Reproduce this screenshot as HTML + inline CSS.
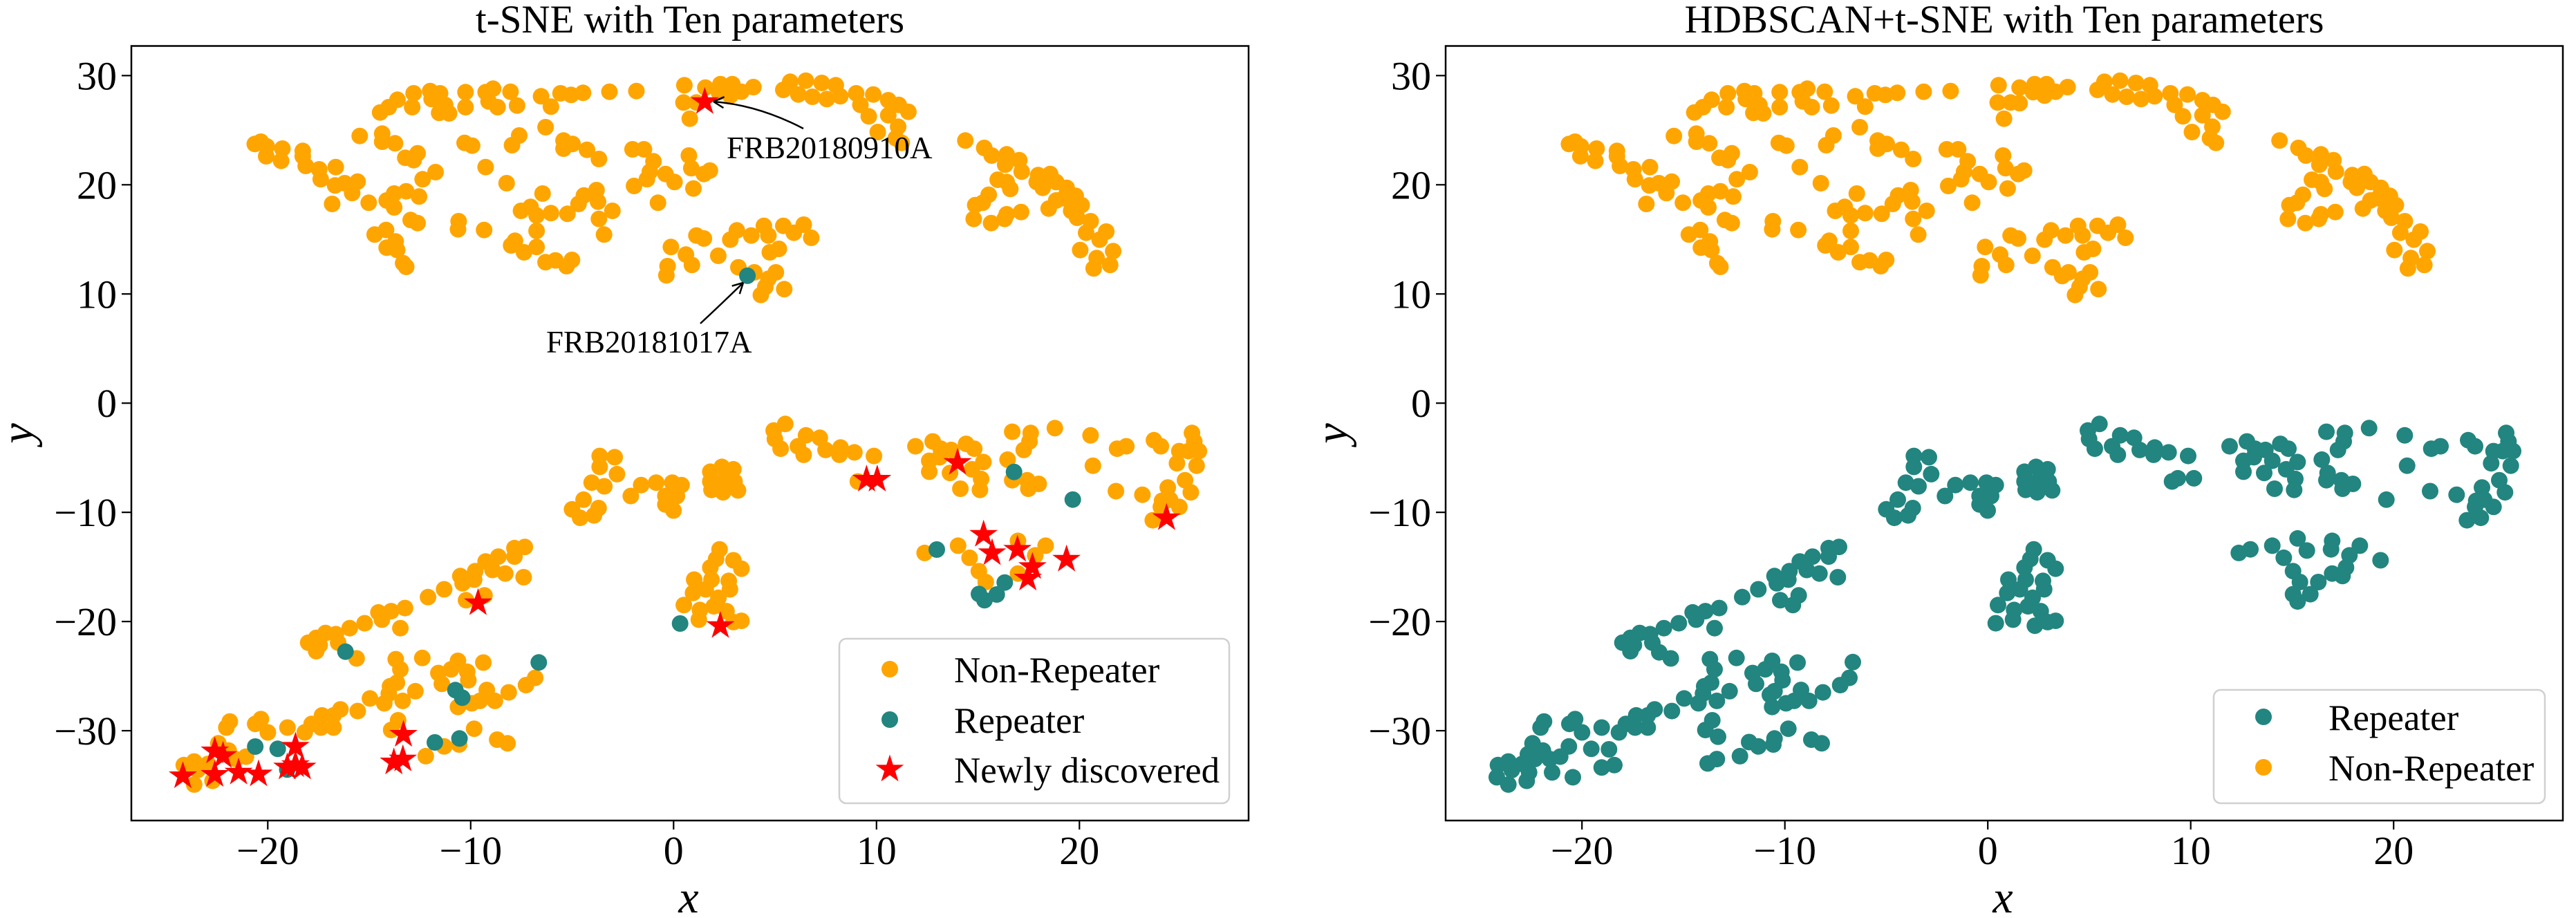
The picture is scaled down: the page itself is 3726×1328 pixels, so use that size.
<!DOCTYPE html>
<html><head><meta charset="utf-8">
<style>
html,body{margin:0;padding:0;background:#fff;}
svg{display:block;}
text{font-family:"Liberation Serif","DejaVu Serif",serif;fill:#000;}
</style></head>
<body>
<svg id="s" xmlns="http://www.w3.org/2000/svg" width="3726" height="1328" viewBox="0 0 3726 1328">
<rect x="0" y="0" width="3726" height="1328" fill="#fff"/>
<g id="pl"></g>
<g id="pr"></g>
<g id="ann" fill="none" stroke="#000" stroke-width="2.5"></g>

<!-- Left axes -->
<rect x="190" y="66.5" width="1616" height="1120.5" fill="none" stroke="#000" stroke-width="2.5"/>
<g stroke="#000" stroke-width="2.2">
<line x1="176" y1="109.35" x2="190" y2="109.35"/><line x1="176" y1="267.3" x2="190" y2="267.3"/>
<line x1="176" y1="425.25" x2="190" y2="425.25"/><line x1="176" y1="583.2" x2="190" y2="583.2"/>
<line x1="176" y1="741.15" x2="190" y2="741.15"/><line x1="176" y1="899.1" x2="190" y2="899.1"/>
<line x1="176" y1="1057.05" x2="190" y2="1057.05"/>
<line x1="387.3" y1="1187" x2="387.3" y2="1200"/><line x1="680.8" y1="1187" x2="680.8" y2="1200"/>
<line x1="974.3" y1="1187" x2="974.3" y2="1200"/><line x1="1267.8" y1="1187" x2="1267.8" y2="1200"/>
<line x1="1561.3" y1="1187" x2="1561.3" y2="1200"/>
</g>
<g font-size="58" text-anchor="end">
<text x="169" y="129.4">30</text><text x="169" y="287.3">20</text><text x="169" y="445.3">10</text>
<text x="169" y="603.2">0</text><text x="169" y="761.2">−10</text><text x="169" y="919.1">−20</text>
<text x="169" y="1077.1">−30</text>
</g>
<g font-size="58" text-anchor="middle">
<text x="387.3" y="1250">−20</text><text x="680.8" y="1250">−10</text><text x="974.3" y="1250">0</text>
<text x="1267.8" y="1250">10</text><text x="1561.3" y="1250">20</text>
</g>
<text x="998" y="47" font-size="57" text-anchor="middle">t-SNE with Ten parameters</text>
<text x="996" y="1320" font-size="66" font-style="italic" text-anchor="middle">x</text>
<text transform="translate(47,627) rotate(-90)" font-size="66" font-style="italic" text-anchor="middle">y</text>
<text x="1051" y="229" font-size="45">FRB20180910A</text>
<text x="790" y="510" font-size="45">FRB20181017A</text>

<!-- Left legend -->
<rect x="1214" y="924" width="564" height="238" rx="10" ry="10" fill="#fff" fill-opacity="0.8" stroke="#d0d0d0" stroke-width="2.5"/>
<circle cx="1287" cy="968" r="12" fill="#FFA500"/>
<circle cx="1287" cy="1041" r="12" fill="#22857f"/>
<g id="legstar"></g>
<g font-size="53">
<text x="1380" y="987">Non-Repeater</text>
<text x="1380" y="1060">Repeater</text>
<text x="1380" y="1132">Newly discovered</text>
</g>

<!-- Right axes -->
<rect x="2091" y="66.5" width="1616" height="1120.5" fill="none" stroke="#000" stroke-width="2.5"/>
<g stroke="#000" stroke-width="2.2">
<line x1="2077" y1="109.35" x2="2091" y2="109.35"/><line x1="2077" y1="267.3" x2="2091" y2="267.3"/>
<line x1="2077" y1="425.25" x2="2091" y2="425.25"/><line x1="2077" y1="583.2" x2="2091" y2="583.2"/>
<line x1="2077" y1="741.15" x2="2091" y2="741.15"/><line x1="2077" y1="899.1" x2="2091" y2="899.1"/>
<line x1="2077" y1="1057.05" x2="2091" y2="1057.05"/>
<line x1="2288.2" y1="1187" x2="2288.2" y2="1200"/><line x1="2581.7" y1="1187" x2="2581.7" y2="1200"/>
<line x1="2875.2" y1="1187" x2="2875.2" y2="1200"/><line x1="3168.7" y1="1187" x2="3168.7" y2="1200"/>
<line x1="3462.2" y1="1187" x2="3462.2" y2="1200"/>
</g>
<g font-size="58" text-anchor="end">
<text x="2070" y="129.4">30</text><text x="2070" y="287.3">20</text><text x="2070" y="445.3">10</text>
<text x="2070" y="603.2">0</text><text x="2070" y="761.2">−10</text><text x="2070" y="919.1">−20</text>
<text x="2070" y="1077.1">−30</text>
</g>
<g font-size="58" text-anchor="middle">
<text x="2288.2" y="1250">−20</text><text x="2581.7" y="1250">−10</text><text x="2875.2" y="1250">0</text>
<text x="3168.7" y="1250">10</text><text x="3462.2" y="1250">20</text>
</g>
<text x="2899" y="47" font-size="57" text-anchor="middle">HDBSCAN+t-SNE with Ten parameters</text>
<text x="2897" y="1320" font-size="66" font-style="italic" text-anchor="middle">x</text>
<text transform="translate(1948,627) rotate(-90)" font-size="66" font-style="italic" text-anchor="middle">y</text>

<!-- Right legend -->
<rect x="3202" y="998" width="479" height="164" rx="10" ry="10" fill="#fff" fill-opacity="0.8" stroke="#d0d0d0" stroke-width="2.5"/>
<circle cx="3274" cy="1037" r="12" fill="#22857f"/>
<circle cx="3274" cy="1110" r="12" fill="#FFA500"/>
<g font-size="53">
<text x="3368" y="1056">Repeater</text>
<text x="3368" y="1129">Non-Repeater</text>
</g>
</svg>
<script>
(function(){
var NS='http://www.w3.org/2000/svg';
var ORANGE='#FFA500', TEAL='#22857f', RED='#ff0000';
function Z(ox,oy,sx,sy,a){return a.map(function(p){return [ox+p[0]/sx, oy+p[1]/sy];});}
var z5=[[578,218],[607,195],[636,163],[690,135],[685,195],[745,125],[778,135],[750,160],[775,220],[808,222],[795,185],[863,130],[863,195],[930,130],[955,115],[940,170],[970,195],[1013,128],[1035,188],[1115,148],[1148,193],[1180,135],[1215,142],[1255,133],[1343,128],[1433,125],
[160,355],[180,345],[200,365],[198,408],[252,375],[248,428],[320,385],[320,408],[330,450],[375,465],[380,508],[430,455],[428,535],[460,525],[503,518],[485,568],[418,615],[510,320],[585,310],[585,345],[628,352],[662,415],[703,395],[690,425],[720,508],[763,477],[540,610],[600,600],[625,570],[625,630],[665,560],[708,583],[680,685],[703,698],[560,748],[598,728],[630,778],[600,805],[635,815],[655,872],[665,888],[840,690],[838,725],[925,728],[860,350],[885,362],[930,455],[1000,525],[1042,318],[1018,360],[1130,282],[1190,340],[1190,375],[1220,355],[1268,380],[1308,420],[1120,570],[1048,645],[1080,628],[1100,665],[1148,655],[1203,658],[1240,615],[1258,578],[1300,555],[1305,605],[1308,680],[1353,645],[1325,748],[1100,732],[1100,802],[1028,775],[1015,795],[1058,825],[1130,868],[1163,860],[1200,885],[1218,858],[1420,378],[1458,378],[1490,430],[1478,475],[1468,508],[1425,537],[1530,485],[1560,520],[1505,610],[1548,802],[1537,885],[1533,925]];
var z6=[[25,100],[22,175],[65,175],[95,110],[95,178],[145,95],[140,130],[185,95],[178,145],[215,128],[255,108],[43,245],[355,120],[378,85],[405,140],[430,80],[452,150],[483,90],[500,160],[530,100],[545,148],[598,135],[612,185],[655,140],[640,235],[670,303],[705,165],[705,230],[740,185],[738,280],[772,215],[730,330],[750,350],
[40,405],[48,460],[90,485],[110,470],[55,548],
[65,752],[90,765],[200,730],[178,770],[248,752],[290,710],[305,752],[355,710],[340,810],[310,825],[390,740],[423,705],[448,762],[30,835],[50,880],[138,840],[205,890],[237,928],[258,912],[305,940],[330,912],[295,975],[280,1010],[358,985],
[962,340],[1025,372],[1050,405],[1100,400],[1095,445],[1142,425],[1150,475],[1205,490],[1200,520],[1245,485],[1220,545],[1265,520],[1300,545],[1290,590],[1330,580],[1350,620],[1315,645],[1335,675],[1240,635],[1265,600],[1380,690],[1365,740],[1432,735],[1410,770],[1455,820],[1445,880],[1390,895],[1345,815],[1400,850],[1070,510],[1100,520],[1112,550],[1040,575],[1020,610],[995,620],[990,680],[1048,698],[1100,660],[1148,650],[1093,680]];
var z7=[[1505,585],[1535,655],[1450,605],[1480,640],[1405,645],[1400,680],[1340,665],[1350,695],[1270,720],[1200,752],[1445,745],[1420,785],[1365,765],[1100,797],[1040,810],[985,815],[1000,845],[1080,880],[925,860],[860,880],[800,905],[755,900],[715,920],[680,940],[730,950],[715,975],[810,940],[840,980],[890,1005],
[1060,1008],[1080,1050],[1175,1003],[1440,1022],[1245,1065],[1260,1110],[1300,1050],[1330,1015],[1370,1060],[1375,1095],[1340,1140],[1320,1155],[1330,1205],[1390,1190],[1425,1180],[1455,1135],[1490,1180],[1550,1145],[1065,1105],[1035,1120],[1030,1150],[1145,1140],[1090,1180],[1010,1190],[948,1170],[895,1222],[820,1215],[790,1240],[790,1290],[740,1240],[735,1290],[695,1275],[665,1310],[590,1290],[1070,1260],[1040,1300],[1095,1328],[1400,1295],[1340,1335],[1335,1360],[1230,1350],[1270,1368],[1190,1408],[1090,1420],[1050,1438],[1500,1340],[1545,1355],
[340,1265],[325,1290],[475,1255],[450,1275],[505,1310],[545,1378],[622,1380],[448,1368],[410,1410],[375,1475],[465,1495],[645,1445],[590,1455],[290,1355],[335,1385],[270,1400],[300,1420],[140,1445],[185,1430],[200,1465],[135,1495],[185,1525],[265,1510],[275,1475],[245,1440],[365,1420]];
var z8=[[1190,38],[1140,65],[1145,100],[1170,140],[1280,85],[1245,130],[1270,165],[1340,95],[1365,145],[1430,135],[1425,165],[1490,155],[1505,275],[1530,262],
[385,170],[450,175],[385,215],[460,245],[350,280],[405,295],[315,350],[380,385],[360,415],[265,390],[300,425],[520,335],[565,290],[630,280],[700,280],[740,290],[720,335],[670,335],[670,370],[705,395],[865,235],[915,215],[965,225],[865,275],[920,275],[970,275],[870,310],[920,320],[985,312],
[15,550],[60,545],[15,585],[55,670],
[905,555],[890,595],[965,600],[1000,635],[865,630],[870,680],[795,680],[945,685],[950,720],[790,735],[845,720],[900,755],[880,790],[750,785],[820,805],[815,845],[935,810],[740,860],[910,870],[965,855],[1000,850],
[120,1020],[105,1085],[65,1115]];
var z9=[[15,170],[40,262],[195,130],[270,110],[305,140],[255,190],[255,235],[300,175],[345,240],[350,145],[380,190],[415,120],[450,140],[490,195],[440,225],[480,265],[475,310],[390,305],[615,70],[695,75],[665,145],[690,110],[595,185],[620,240],[615,270],[680,270],[730,285],[685,305],[800,55],[955,85],[965,210],[875,350],[1070,140],[1110,130],[1065,315],[1180,330],[1230,105],[1260,130],[1395,75],[1405,110],[1340,150],[1380,150],[1425,150],[1330,200],[1415,210],[1365,270],[1290,300],[1390,320],[1265,355],[1340,380],[1300,350],[1225,435],[1285,425],[1260,380],
[235,570],[285,555],[380,540],[430,590],[490,510],[530,560],[640,520],[635,555],[715,580],[760,540],[470,645],[500,690],[580,690],[640,655],[685,665],[700,630],[470,740],[545,740],[490,770],[850,600]];
var pts=[].concat(Z(2200,90,2.306,3,z5),Z(2880,90,2.306,3,z6),Z(2120,600,3,2.851,z7),Z(2640,600,3,2.851,z8),Z(3160,600,3,2.851,z9));

function circ(g,x,y,c){var e=document.createElementNS(NS,'circle');e.setAttribute('cx',x.toFixed(1));e.setAttribute('cy',y.toFixed(1));e.setAttribute('r','12');e.setAttribute('fill',c);g.appendChild(e);}
function star(g,cx,cy,R){var r=R*0.381966,s='';for(var i=0;i<10;i++){var a=(-90+i*36)*Math.PI/180,rr=(i%2)?r:R;s+=(i?'L':'M')+(cx+rr*Math.cos(a)).toFixed(1)+' '+(cy+rr*Math.sin(a)).toFixed(1);}s+='Z';var e=document.createElementNS(NS,'path');e.setAttribute('d',s);e.setAttribute('fill',RED);g.appendChild(e);}

// Right plot
var gr=document.getElementById('pr');
pts.forEach(function(p){if(p[1]>=520)circ(gr,p[0],p[1],TEAL);});
pts.forEach(function(p){if(p[1]<520)circ(gr,p[0],p[1],ORANGE);});

// Left plot
var SH=1900.9;
var L=pts.map(function(p){return {x:p[0]-SH,y:p[1],c:ORANGE,h:false};});
var teal=[].concat(
 Z(0,0,0.8417,2.3614,[[910,942]]),
 Z(0,664,0.8417,2.3614,[[828,562]]),
 Z(1300,590,3,3,[[500,278],[755,398],[165,615],[460,758],[348,808],[372,835],[425,810]]),
 Z(200,880,2.529,3,[[758,188],[428,600],[510,610],[545,700],[1160,355],[1185,388],[1085,582],[1175,565],[1465,235]])
);
var stars=[].concat(
 Z(0,0,0.8417,2.3614,[[858,348]]),
 Z(0,664,0.8417,2.3614,[[1055,70],[1068,70],[582,492],[877,570]]),
 Z(1300,590,3,3,[[255,238],[368,550],[405,630],[515,615],[580,690],[560,740],[728,658],[1162,478]]),
 Z(200,880,2.529,3,[[163,728],[280,620],[310,640],[280,722],[367,712],[440,720],[575,600],[575,680],[545,690],[600,690],[970,548],[935,668],[968,655]])
);
function nearest(p,maxd){var bi=-1,bd=maxd*maxd;for(var i=0;i<L.length;i++){if(L[i].h)continue;var dx=L[i].x-p[0],dy=L[i].y-p[1],d=dx*dx+dy*dy;if(d<bd){bd=d;bi=i;}}return bi;}
var extraTeal=[];
teal.forEach(function(p){var i=nearest(p,14);if(i>=0&&L[i].c===ORANGE){L[i].c=TEAL;L[i].x=p[0];L[i].y=p[1];}else extraTeal.push(p);});
stars.forEach(function(p){var i=nearest(p,10);if(i>=0&&L[i].c===ORANGE)L[i].h=true;});
var gl=document.getElementById('pl');
L.forEach(function(q){if(!q.h&&q.c===ORANGE)circ(gl,q.x,q.y,ORANGE);});
L.forEach(function(q){if(!q.h&&q.c===TEAL)circ(gl,q.x,q.y,TEAL);});
extraTeal.forEach(function(p){circ(gl,p[0],p[1],TEAL);});
stars.forEach(function(p){star(gl,p[0],p[1],21.5);});
star(document.getElementById('legstar'),1287,1113,21.5);

// Annotations
var ga=document.getElementById('ann');
function arrow(P0,C,P2){var e=document.createElementNS(NS,'path');e.setAttribute('d','M'+P0[0]+' '+P0[1]+' Q'+C[0]+' '+C[1]+' '+P2[0]+' '+P2[1]);ga.appendChild(e);
 var dx=P2[0]-C[0],dy=P2[1]-C[1],n=Math.sqrt(dx*dx+dy*dy);dx/=n;dy/=n;var Lh=17,th=28*Math.PI/180;
 var s='';[th,-th].forEach(function(t){var bx=-dx*Math.cos(t)+dy*Math.sin(t),by=-dx*Math.sin(t)-dy*Math.cos(t);s+='M'+(P2[0]+Lh*bx).toFixed(1)+' '+(P2[1]+Lh*by).toFixed(1)+' L'+P2[0]+' '+P2[1]+' ';});
 var h=document.createElementNS(NS,'path');h.setAttribute('d',s);ga.appendChild(h);}
arrow([1162,186],[1097,152],[1032,147]);
arrow([1013,468],[1040,443],[1075,409]);
})();
</script>
</body></html>
